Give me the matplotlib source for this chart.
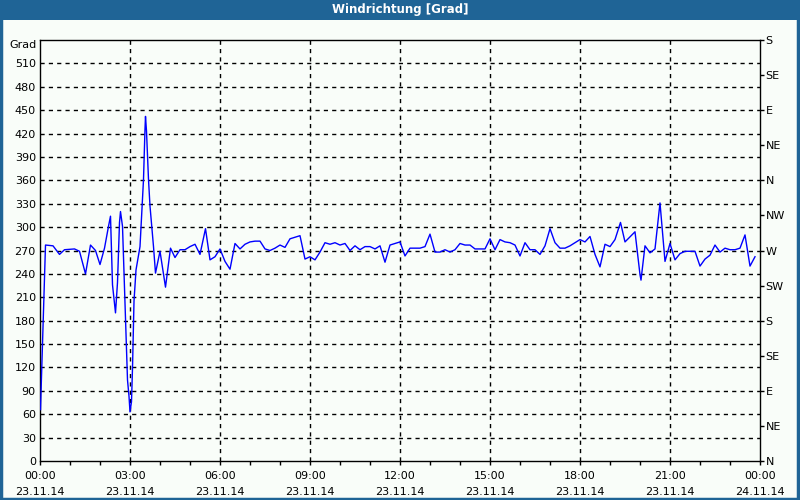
import numpy as np
import matplotlib
matplotlib.use("Agg")
import matplotlib.pyplot as plt
from matplotlib.patches import Rectangle

# ----- data (minutes after 23.11.14 00:00, degrees) -----
minutes = [1, 11, 26, 39, 49, 69, 79, 91, 101, 111, 120, 129, 137, 141, 145,
           151, 155, 159, 161, 165, 175, 178, 180, 183, 185, 188, 192, 200,
           204, 207, 210, 211, 213, 217, 220, 227, 231, 240, 251, 261,
           270, 280, 290, 300, 310, 320, 331, 340, 350, 360, 370, 380, 390,
           400, 410, 420, 430, 440, 450, 460, 470, 480, 490, 500, 510, 520,
           530, 540, 550, 560, 570, 580, 590, 600, 610, 620, 630, 640, 650,
           660, 670, 680, 690, 700, 710, 720, 730, 740, 750, 760, 770, 780,
           790, 800, 810, 820, 830, 840, 850, 860, 870, 880, 890, 900, 910,
           920, 930, 940, 950, 960, 970, 980, 990, 1000, 1010, 1020, 1030,
           1040, 1050, 1060, 1070, 1080, 1090, 1100, 1110, 1120, 1130, 1140,
           1150, 1161, 1170, 1190, 1200, 1202, 1210, 1220, 1230, 1240, 1250,
           1260, 1270, 1280, 1290, 1310, 1320, 1330, 1340, 1350, 1360, 1370,
           1380, 1390, 1400, 1410, 1420, 1430]
direction = [66, 277, 276, 265, 271, 272, 269, 240, 277, 270, 252, 273, 301,
             314, 226, 190, 229, 306, 320, 301, 104, 83, 63, 76, 119, 205,
             245, 275, 323, 361, 426, 442, 423, 361, 327, 275, 241, 269, 223,
             273, 261, 271, 271, 275, 278, 265, 298, 258, 262, 272, 256, 246,
             279, 272, 278, 281, 282, 282, 272, 270, 273, 277, 274, 285, 287,
             289, 259, 262, 258, 268, 280, 278, 280, 277, 279, 270, 276, 271,
             275, 275, 272, 276, 255, 277, 279, 281, 263, 273, 273, 273, 275,
             291, 268, 268, 271, 268, 271, 279, 277, 277, 272, 272, 272, 285,
             271, 284, 281, 280, 277, 263, 280, 271, 271, 265, 276, 298, 280,
             273, 273, 276, 280, 284, 281, 288, 265, 249, 278, 275, 284, 306,
             281, 294, 239, 232, 276, 267, 272, 331, 256, 279, 258, 266, 269,
             269, 250, 259, 264, 277, 268, 273, 271, 271, 273, 290, 250, 262]

y_ticks = list(range(0, 540, 30))
compass = ["N", "NE", "E", "SE", "S", "SW", "W", "NW", "N", "NE", "E", "SE", "S"]
x_hours = list(range(0, 25, 3))
x_labels = ["00:00\n23.11.14", "03:00\n23.11.14", "06:00\n23.11.14",
            "09:00\n23.11.14", "12:00\n23.11.14", "15:00\n23.11.14",
            "18:00\n23.11.14", "21:00\n23.11.14", "00:00\n24.11.14"]

bg = "#F9FDF9"
frame = "#1F6496"

plt.rcParams["font.family"] = ["DejaVu Sans"]
plt.rcParams["font.size"] = 8

fig = plt.figure(figsize=(8, 5), dpi=100, facecolor=bg)

# title bar and outer frame
fig.patches.append(Rectangle((0, 0.96), 1, 0.04, transform=fig.transFigure,
                             facecolor=frame, edgecolor="none", zorder=0))
fig.patches.append(Rectangle((0.001, 0.002), 0.997, 0.997, transform=fig.transFigure,
                             facecolor="none", edgecolor=frame, lw=2.5, zorder=5))
fig.text(0.5, 0.98, "Windrichtung [Grad]", color="white", ha="center",
         va="center", fontsize=8.5, fontweight="bold")

ax = fig.add_axes([0.05, 0.078, 0.9, 0.842])
ax.set_facecolor(bg)
hours = np.array(minutes) / 60.0
ax.plot(hours, direction, color="#0000FF", lw=1, zorder=3)

ax.set_xlim(0, 24)
ax.set_ylim(0, 540)

# grid
for v in y_ticks[1:]:
    ax.axhline(v, color="black", lw=1, ls=(0, (3, 3)), zorder=1)
for h in x_hours[1:-1]:
    ax.axvline(h, color="black", lw=1, ls=(0, (3, 3)), zorder=1)

ax.set_yticks(y_ticks)
ax.set_yticklabels([str(v) for v in y_ticks])
ax.tick_params(axis="y", length=0, pad=3)
ax.text(-0.004, 534, "Grad", ha="right", va="center",
        transform=ax.get_yaxis_transform())

ax.set_xticks(x_hours)
ax.set_xticklabels(x_labels, linespacing=1.75)
ax.set_xticks(range(25), minor=True)
ax.tick_params(axis="x", which="both", direction="out", length=3, width=1, pad=4)

for s in ax.spines.values():
    s.set_color("black")
    s.set_linewidth(1)

ax2 = ax.twinx()
ax2.set_ylim(0, 540)
ax2.set_yticks(range(0, 541, 45))
ax2.set_yticklabels(compass)
ax2.tick_params(axis="y", direction="out", length=3, width=1, pad=1)
for s in ax2.spines.values():
    s.set_visible(False)

fig.savefig("out.png", dpi=100, facecolor=bg)
